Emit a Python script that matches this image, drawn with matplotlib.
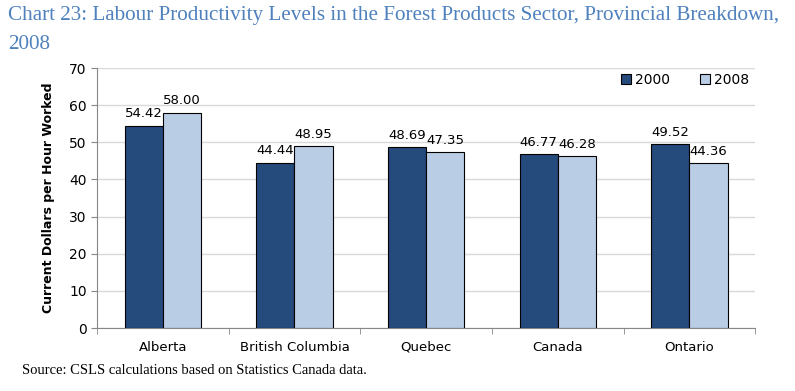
import numpy as np
import matplotlib.pyplot as plt

regions = ["Alberta", "British Columbia", "Quebec", "Canada", "Ontario"]
vals_2000 = [54.42, 44.44, 48.69, 46.77, 49.52]
vals_2008 = [58.00, 48.95, 47.35, 46.28, 44.36]

dark = "#254a7c"
light = "#b9cde5"

fig = plt.figure(figsize=(7.95, 3.91), dpi=100)
ax = fig.add_axes([0.122, 0.161, 0.828, 0.665])

x = np.arange(len(regions))
w = 0.29
b1 = ax.bar(x - w / 2, vals_2000, w, color=dark, edgecolor="black", linewidth=0.8, label="2000", zorder=3)
b2 = ax.bar(x + w / 2, vals_2008, w, color=light, edgecolor="black", linewidth=0.8, label="2008", zorder=3)

for bars in (b1, b2):
    for r in bars:
        ax.text(r.get_x() + r.get_width() / 2, r.get_height() + 1.5, "%.2f" % r.get_height(),
                ha="center", va="bottom", fontsize=9.5)

ax.set_xlim(-0.5, 4.5)
ax.set_ylim(0, 70)
ax.set_yticks(range(0, 71, 10))
ax.set_xticks(x)
ax.set_xticklabels(regions, fontsize=9.5)
ax.tick_params(axis="y", labelsize=10, length=4, color="#888888")
ax.tick_params(axis="x", length=0, pad=9)
ax.set_xticks(np.arange(-0.5, 5, 1), minor=True)
ax.tick_params(axis="x", which="minor", length=4, color="#888888")
ax.grid(axis="y", color="#d9d9d9", linewidth=1, zorder=0)
for s in ["top", "right"]:
    ax.spines[s].set_visible(False)
for s in ["left", "bottom"]:
    ax.spines[s].set_color("#888888")

ax.set_ylabel("Current Dollars per Hour Worked", fontsize=9, fontweight="bold", labelpad=10)

ax.legend(loc="upper right", bbox_to_anchor=(1.01, 1.03), ncol=2, frameon=False, fontsize=10,
          handlelength=0.7, handleheight=0.7, columnspacing=2.2, handletextpad=0.3)

fig.text(0.01, 0.985, "Chart 23: Labour Productivity Levels in the Forest Products Sector, Provincial Breakdown,\n2008",
         ha="left", va="top", fontsize=15.2, color="#4f81bd", family="Liberation Serif", linespacing=1.75)
fig.text(0.028, 0.035, "Source: CSLS calculations based on Statistics Canada data.",
         ha="left", va="bottom", fontsize=10.5, family="Liberation Serif")

fig.savefig("out.png", dpi=100)
